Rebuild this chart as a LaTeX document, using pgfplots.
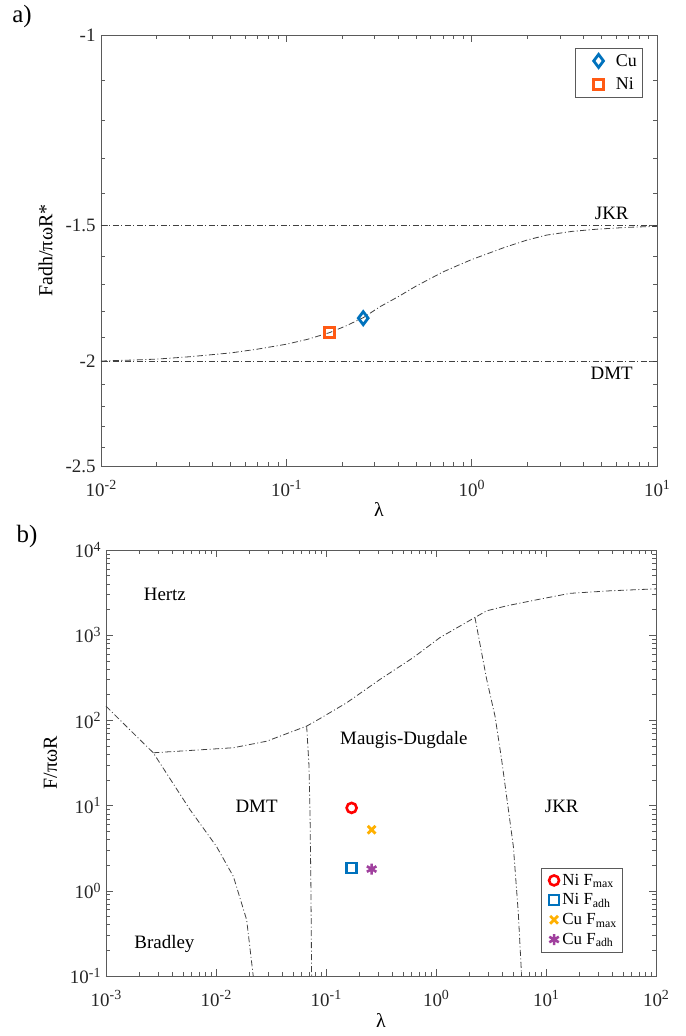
\documentclass[border=0pt]{standalone}
\usepackage{pgfplots}
\pgfplotsset{compat=1.18}
\usepackage{fontspec}
\setmainfont{Liberation Serif}
\definecolor{tickc}{HTML}{262626}
\definecolor{axc}{HTML}{5A5A5A}
\definecolor{mblue}{HTML}{0072BD}
\definecolor{morange}{HTML}{FF5A14}
\definecolor{mred}{HTML}{FF0000}
\definecolor{myellow}{HTML}{FFB000}
\definecolor{mpurple}{HTML}{A0409E}
\definecolor{curvec}{HTML}{404040}
\newcommand{\tp}[1]{10\raisebox{0.75ex}{\fontsize{14}{14}\selectfont #1}}
\tikzset{tl/.style={font=\fontsize{19}{19}\selectfont}}
\begin{document}
\begin{tikzpicture}
\path[use as bounding box] (0,0) rectangle (686bp,-1036bp);
\pgfplotsset{
  common/.style={
    scale only axis,
    axis line style={draw=axc, line width=0.7bp},
    every tick/.style={draw=axc, line width=0.6bp},
    major tick length=7bp, minor tick length=4bp,
    tick label style={font=\fontsize{19}{19}\selectfont, text=tickc},
    x tick label style={yshift=-11bp},
    y tick label style={xshift=-2bp},
    label style={font=\fontsize{20}{20}\selectfont},
    ylabel style={yshift=6bp},
    legend cell align=left,
    legend style={draw=axc, line width=0.6bp, fill=white,
      inner sep=4bp, nodes={inner xsep=2bp}},
    clip=false,
  },
  dd/.style={draw=curvec, line width=0.8bp, dash pattern=on 6bp off 2.5bp on 1bp off 2.5bp, no marks, forget plot},
}
\node[font=\fontsize{25}{25}\selectfont, anchor=center] at (22bp,-17bp) {a)};
\node[font=\fontsize{25}{25}\selectfont, anchor=center] at (27bp,-537bp) {b)};
% ---------------- (a) ----------------
\begin{axis}[common,
  at={(101bp,-466bp)}, anchor=south west,
  width=556bp, height=431bp,
  xmode=log, xmin=0.01, xmax=10,
  ymode=log, y dir=reverse, ymin=1, ymax=2.5,
  xtick={0.01,0.1,1,10},
  xticklabels={\tp{-2},\tp{-1},\tp{0},\tp{1}},
  ytick={1,1.5,2,2.5}, yticklabels={-1,-1.5,-2,-2.5},
  minor ytick={1.1,1.2,1.3,1.4,1.6,1.7,1.8,1.9,2.1,2.2,2.3,2.4},
  xlabel={λ}, ylabel={Fadh/πωR*},
  xlabel style={yshift=1bp},
  legend style={at={(0.975,0.970)}, anchor=north east, font=\fontsize{18}{20}\selectfont, row sep=6bp},
  legend image code/.code={\path (0bp,0bp) (34bp,0bp); \draw plot coordinates {(19bp,0bp)};},
]
\addplot[dd] coordinates {(0.01,1.5) (10,1.5)};
\addplot[dd] coordinates {(0.01,2) (10,2)};
\addplot[dd] coordinates {
(0.01,2.0)(0.015,1.996)(0.02,1.992)(0.03,1.982)(0.05,1.966)(0.07,1.950)
(0.1,1.930)(0.13,1.910)(0.171,1.883)(0.21,1.856)(0.26,1.824)(0.32,1.782)
(0.4,1.745)(0.5,1.706)(0.7,1.655)(0.83,1.634)(1.0,1.612)(1.5,1.571)(2.0,1.546)
(2.55,1.530)(3.5,1.518)(4.75,1.511)(7.0,1.505)(10,1.502)};
\addplot[only marks, mark=diamond, mark size=6.5bp, mark options={draw=mblue, line width=2.8bp, fill=white}] coordinates {(0.26,1.826)};
\addlegendentry{Cu}
\addplot[only marks, mark=square, mark size=5bp, mark options={draw=morange, line width=2.8bp, fill=white}] coordinates {(0.171,1.883)};
\addlegendentry{Ni}
\node[anchor=south, tl] at (axis cs:5.7,1.5) [yshift=3bp] {JKR};
\node[anchor=north, tl] at (axis cs:5.7,2) [yshift=-3bp] {DMT};
\end{axis}
% ---------------- (b) ----------------
\begin{axis}[common,
  at={(106bp,-976bp)}, anchor=south west,
  width=550bp, height=426bp,
  xmode=log, ymode=log, xmin=0.001, xmax=100, ymin=0.1, ymax=10000,
  xtick={0.001,0.01,0.1,1,10,100},
  xticklabels={\tp{-3},\tp{-2},\tp{-1},\tp{0},\tp{1},\tp{2}},
  ytick={0.1,1,10,100,1000,10000},
  yticklabels={\tp{-1},\tp{0},\tp{1},\tp{2},\tp{3},\tp{4}},
  xlabel={λ}, ylabel={F/πωR},
  xlabel style={yshift=0bp},
  legend style={at={(0.94,0.056)}, anchor=south east, font=\fontsize{17}{19}\selectfont, row sep=3bp},
  legend image code/.code={\path (0bp,0bp) (14bp,0bp); \draw plot coordinates {(8bp,0bp)};},
]
\addplot[dd] coordinates {(0.00269,41.7)(0.0144,47.8)(0.0289,57)(0.0667,85.7)(0.088,105)(0.154,161)(0.31,303)(0.622,547)(1.087,939)(2.26,1615)(2.88,1932)(4.4,2214)(8.2,2603)(16.5,3100)(38.2,3320)(100,3500)};
\addplot[dd] coordinates {(0.001,147)(0.00164,78)(0.00269,41.7)(0.0058,8.97)(0.0101,3.32)(0.0144,1.47)(0.019,0.456)(0.0218,0.1)};
\addplot[dd] coordinates {(0.0667,85.7)(0.070,30)(0.0716,8)(0.073,1)(0.074,0.1)};
\addplot[dd] coordinates {(2.26,1615)(2.89,303)(3.44,112)(3.95,34.7)(5.05,3.32)(5.6,0.55)(6.0,0.1)};
\addplot[only marks, mark=o, mark size=5bp, mark options={draw=mred, line width=2.6bp}] coordinates {(0.171,9.4)};
\addlegendentry{Ni F\textsubscript{max}}
\addplot[only marks, mark=square, mark size=5bp, mark options={draw=mblue, line width=2.6bp, fill=white}] coordinates {(0.171,1.85)};
\addlegendentry{Ni F\textsubscript{adh}}
\addplot[only marks, mark=x, mark size=5.5bp, mark options={draw=myellow, line width=2.8bp}] coordinates {(0.26,5.2)};
\addlegendentry{Cu F\textsubscript{max}}
\addplot[only marks, mark=asterisk, mark size=5.5bp, mark options={draw=mpurple, line width=2.6bp}] coordinates {(0.26,1.8)};
\addlegendentry{Cu F\textsubscript{adh}}
\node[tl] at (axis cs:0.00343,3000) {Hertz};
\node[tl] at (axis cs:0.0234,9.8) {DMT};
\node[tl] at (axis cs:0.51,58.6) {Maugis-Dugdale};
\node[tl] at (axis cs:0.0034,0.238) {Bradley};
\node[tl] at (axis cs:13.9,9.8) {JKR};
\end{axis}
\end{tikzpicture}
\end{document}
